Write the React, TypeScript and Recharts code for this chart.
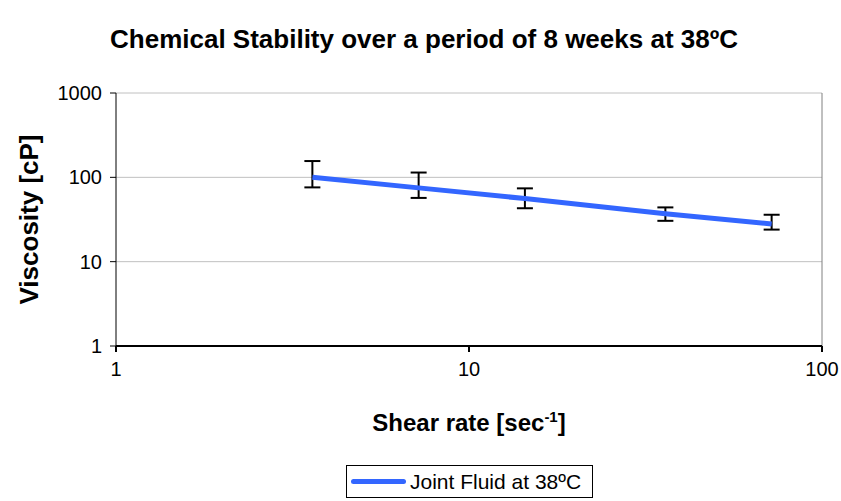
import React from "react";
import {
  LineChart,
  Line,
  XAxis,
  YAxis,
  CartesianGrid,
  ErrorBar,
  Legend,
  ReferenceLine,
} from "recharts";

const shearRate = [3.6, 7.2, 14.4, 36, 72];
const viscosity = [100, 75, 56, 37, 28];
const errLow = [24, 18, 13, 6.5, 4];
const errHigh = [56, 39, 18, 7, 8];

const xTicks = [1, 10, 100];
const yTicks = [1, 10, 100, 1000];

const seriesName = "Joint Fluid at 38ºC";
const titleText = "Chemical Stability over a period of 8 weeks at 38ºC";

const data = shearRate.map((x, i) => ({
  x,
  v: viscosity[i],
  err: [errLow[i], errHigh[i]],
}));

const FONT = "'Liberation Sans', Arial, sans-serif";
const BLUE = "#3366FF";

function YLabel(props: any) {
  const vb = props.viewBox || {};
  const cx = 29;
  const cy = vb.y + vb.height / 2;
  return (
    <text
      x={cx}
      y={cy}
      transform={`rotate(-90, ${cx}, ${cy})`}
      textAnchor="middle"
      dominantBaseline="central"
      fontFamily={FONT}
      fontWeight="bold"
      fontSize={26}
      fill="#000"
    >
      Viscosity [cP]
    </text>
  );
}

function XLabel(props: any) {
  const vb = props.viewBox || {};
  const cx = vb.x + vb.width / 2;
  return (
    <text
      x={cx}
      y={431}
      textAnchor="middle"
      fontFamily={FONT}
      fontWeight="bold"
      fontSize={24}
      fill="#000"
    >
      Shear rate [sec
      <tspan dy={-9} fontSize={15}>
        -1
      </tspan>
      <tspan dy={9}>]</tspan>
    </text>
  );
}

function LegendBox() {
  return (
    <div
      style={{
        boxSizing: "border-box",
        width: 247,
        height: 33,
        border: "1px solid #000",
        background: "#fff",
        display: "flex",
        alignItems: "center",
        paddingLeft: 4,
        fontFamily: FONT,
        fontSize: 21,
        color: "#000",
      }}
    >
      <span
        style={{
          display: "inline-block",
          width: 55,
          height: 5,
          borderRadius: 3,
          background: BLUE,
          marginRight: 4,
        }}
      />
      <span>{seriesName}</span>
    </div>
  );
}

export default function App() {
  return (
    <div style={{ position: "absolute", left: 0, top: 0, background: "#fff" }}>
      <LineChart
        width={841}
        height={501}
        data={data}
        margin={{ top: 93, right: 19, bottom: 3, left: 0 }}
      >
        <text
          x={424}
          y={48}
          textAnchor="middle"
          fontFamily={FONT}
          fontWeight="bold"
          fontSize={26}
          fill="#000"
        >
          {titleText}
        </text>
        <CartesianGrid horizontal vertical={false} stroke="#c0c0c0" strokeWidth={1} />
        <ReferenceLine x={100} stroke="#808080" strokeWidth={1} ifOverflow="extendDomain" />
        <XAxis
          dataKey="x"
          type="number"
          scale="log"
          domain={[1, 100]}
          ticks={xTicks}
          allowDataOverflow
          height={119}
          stroke="#000"
          strokeWidth={2}
          tickSize={6}
          tick={{ fill: "#000", fontSize: 20, fontFamily: FONT, dy: 8 }}
          label={<XLabel />}
        />
        <YAxis
          type="number"
          scale="log"
          domain={[1, 1000]}
          ticks={yTicks}
          allowDataOverflow
          width={116}
          stroke="#000"
          tickSize={6}
          tick={{ fill: "#000", fontSize: 20, fontFamily: FONT, dx: -6 }}
          label={<YLabel />}
        />
        <Legend
          verticalAlign="bottom"
          wrapperStyle={{ left: 346, bottom: 3 }}
          content={() => <LegendBox />}
        />
        <Line
          dataKey="v"
          name={seriesName}
          stroke={BLUE}
          strokeWidth={5}
          dot={false}
          isAnimationActive={false}
        >
          <ErrorBar dataKey="err" direction="y" width={8} stroke="#000" strokeWidth={2} />
        </Line>
      </LineChart>
    </div>
  );
}
